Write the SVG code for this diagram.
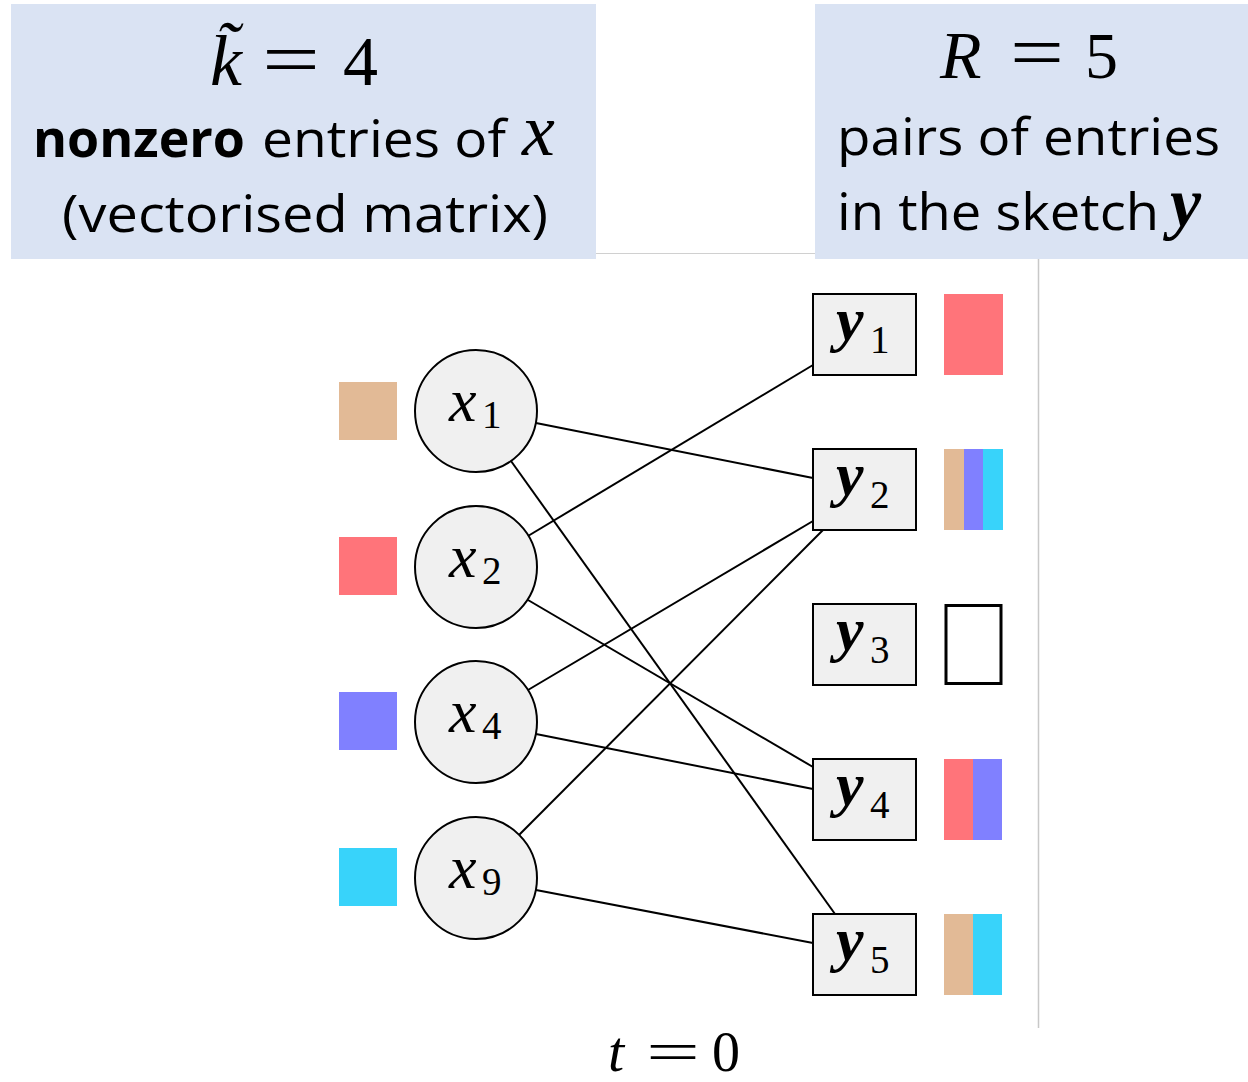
<svg xmlns="http://www.w3.org/2000/svg" width="1248" height="1082" viewBox="0 0 1248 1082">
<style>
.hdr{fill:#dae3f3}
.txt{font-family:"Open Sans","Liberation Sans",sans-serif;font-size:52px;fill:#000}
.math{font-family:"Liberation Serif","DejaVu Serif",serif;fill:#000}
.mi{font-style:italic}
.var{font-family:"Liberation Serif","DejaVu Serif",serif;font-style:italic;font-size:62px}
.bvar{font-family:"Liberation Serif","DejaVu Serif",serif;font-style:italic;font-weight:bold;font-size:62px}
.sub{font-family:"Liberation Serif","DejaVu Serif",serif;font-size:39px}
.circ{fill:#f0f0f0;stroke:#000;stroke-width:2}
.box{fill:#f0f0f0;stroke:#000;stroke-width:2}
.edge{stroke:#000;stroke-width:2;fill:none}
.tan{fill:#e2ba96}.red{fill:#ff747a}.vio{fill:#8080ff}.cyan{fill:#38d3fa}
</style>
<rect width="1248" height="1082" fill="#fff"/>
<line x1="596" y1="253.5" x2="815" y2="253.5" stroke="#d0d0d0" stroke-width="1"/>
<line x1="1038.5" y1="259" x2="1038.5" y2="1028" stroke="#c8c8c8" stroke-width="1.5"/>

<g id="header-left">
<rect class="hdr" x="11" y="4" width="585" height="255"/>
<text class="math mi" x="210" y="85" font-size="72">k̃</text>
<text class="math" x="262" y="85" font-size="76" textLength="58" lengthAdjust="spacingAndGlyphs">=</text>
<text class="math" x="343" y="85" font-size="70">4</text>
<text class="txt" x="33" y="157" font-weight="bold" textLength="212" lengthAdjust="spacingAndGlyphs">nonzero</text>
<text class="txt" x="262" y="157" textLength="244" lengthAdjust="spacingAndGlyphs">entries of</text>
<text class="math mi" x="522" y="155" font-size="74">x</text>
<text class="txt" x="62" y="232" textLength="486" lengthAdjust="spacingAndGlyphs">(vectorised matrix)</text>
</g>

<g id="header-right">
<rect class="hdr" x="815" y="4" width="433" height="255"/>
<text class="math mi" x="940" y="78" font-size="68">R</text>
<text class="math" x="1010" y="78" font-size="76" textLength="54" lengthAdjust="spacingAndGlyphs">=</text>
<text class="math" x="1085" y="78" font-size="66">5</text>
<text class="txt" x="837" y="155" textLength="383" lengthAdjust="spacingAndGlyphs">pairs of entries</text>
<text class="txt" x="837" y="230" textLength="322" lengthAdjust="spacingAndGlyphs">in the sketch</text>
<text class="math mi" x="1170" y="226" font-size="70" font-weight="bold">y</text>
</g>

<g id="connectors">
<line class="edge" x1="536" y1="423" x2="813" y2="478"/>
<line class="edge" x1="511" y1="461" x2="835" y2="914"/>
<line class="edge" x1="528" y1="536" x2="813" y2="365"/>
<line class="edge" x1="528" y1="600" x2="813" y2="767"/>
<line class="edge" x1="528" y1="690" x2="813" y2="521"/>
<line class="edge" x1="536" y1="734" x2="813" y2="789"/>
<line class="edge" x1="519" y1="835" x2="823" y2="530"/>
<line class="edge" x1="536" y1="890" x2="813" y2="943"/>
</g>

<g id="x1">
<rect class="tan" x="339" y="382" width="58" height="58"/>
<circle class="circ" cx="476" cy="411" r="61"/>
<text class="var" x="449" y="421">x</text>
<text class="sub" x="482" y="428">1</text>
</g>
<g id="x2">
<rect class="red" x="339" y="537" width="58" height="58"/>
<circle class="circ" cx="476" cy="567" r="61"/>
<text class="var" x="449" y="577">x</text>
<text class="sub" x="482" y="584">2</text>
</g>
<g id="x4">
<rect class="vio" x="339" y="692" width="58" height="58"/>
<circle class="circ" cx="476" cy="722" r="61"/>
<text class="var" x="449" y="732">x</text>
<text class="sub" x="482" y="739">4</text>
</g>
<g id="x9">
<rect class="cyan" x="339" y="848" width="58" height="58"/>
<circle class="circ" cx="476" cy="878" r="61"/>
<text class="var" x="449" y="888">x</text>
<text class="sub" x="482" y="895">9</text>
</g>

<g id="y1">
<rect class="box" x="813" y="294" width="103" height="81"/>
<text class="bvar" x="836" y="340">y</text>
<text class="sub" x="870" y="353">1</text>
<rect class="red" x="944" y="294" width="59" height="81"/>
</g>
<g id="y2">
<rect class="box" x="813" y="449" width="103" height="81"/>
<text class="bvar" x="836" y="495">y</text>
<text class="sub" x="870" y="508">2</text>
<rect class="tan" x="944" y="449" width="20" height="81"/>
<rect class="vio" x="964" y="449" width="19" height="81"/>
<rect class="cyan" x="983" y="449" width="20" height="81"/>
</g>
<g id="y3">
<rect class="box" x="813" y="604" width="103" height="81"/>
<text class="bvar" x="836" y="650">y</text>
<text class="sub" x="870" y="663">3</text>
<rect x="946" y="605.5" width="55" height="78" fill="#fff" stroke="#000" stroke-width="3"/>
</g>
<g id="y4">
<rect class="box" x="813" y="759" width="103" height="81"/>
<text class="bvar" x="836" y="805">y</text>
<text class="sub" x="870" y="818">4</text>
<rect class="red" x="944" y="759" width="29" height="81"/>
<rect class="vio" x="973" y="759" width="29" height="81"/>
</g>
<g id="y5">
<rect class="box" x="813" y="914" width="103" height="81"/>
<text class="bvar" x="836" y="960">y</text>
<text class="sub" x="870" y="973">5</text>
<rect class="tan" x="944" y="914" width="29" height="81"/>
<rect class="cyan" x="973" y="914" width="29" height="81"/>
</g>

<g id="time-label">
<text class="math mi" x="608" y="1071" font-size="58">t</text>
<text class="math" x="646" y="1071" font-size="58" textLength="54" lengthAdjust="spacingAndGlyphs">=</text>
<text class="math" x="712" y="1071" font-size="56">0</text>
</g>
</svg>
